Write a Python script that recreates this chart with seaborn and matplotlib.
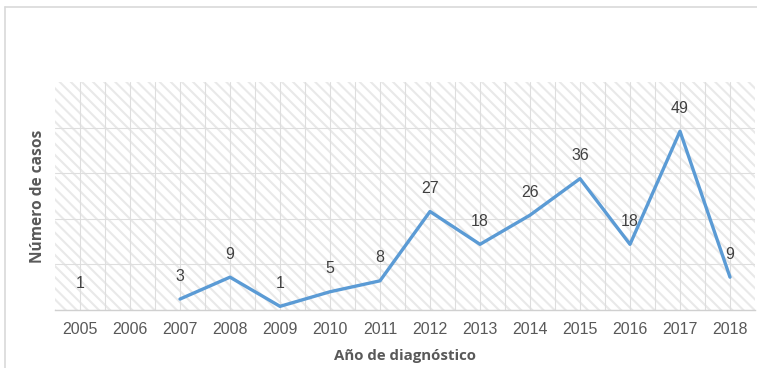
import numpy as np
import pandas as pd
import matplotlib
matplotlib.use('Agg')
import matplotlib.pyplot as plt
from matplotlib.patches import Rectangle
from matplotlib.lines import Line2D
import seaborn as sns

# ---- data ----
years = [2005, 2006, 2007, 2008, 2009, 2010, 2011, 2012, 2013, 2014, 2015, 2016, 2017, 2018]
cases = [1, np.nan, 3, 9, 1, 5, 8, 27, 18, 26, 36, 18, 49, 9]
x_title = "Año de diagnóstico"
y_title = "Número de casos"
y_grid = [0, 12.5, 25, 37.5, 50]

df = pd.DataFrame({"year": years, "cases": cases})
df["segment"] = df["cases"].isna().cumsum()
plot_df = df.dropna()

sns.set_style("white")
plt.rcParams["font.family"] = ["Liberation Sans", "DejaVu Sans"]
plt.rcParams["hatch.linewidth"] = 1.5

W, H = 757, 368
fig = plt.figure(figsize=(W / 100, H / 100), dpi=100)
ax = fig.add_axes([55 / W, 58 / H, 700 / W, 228 / H])

# hatched plot-area background
bg = Rectangle((0, 0), 1, 1, transform=ax.transAxes, facecolor="white",
               edgecolor="#e9e9e9", hatch="\\\\\\", linewidth=0, zorder=0)
ax.add_patch(bg)

sns.lineplot(data=plot_df, x="year", y="cases", units="segment", estimator=None,
             color="#5B9BD5", linewidth=2.4, ax=ax, zorder=3)

ax.set_xlim(years[0] - 0.5, years[-1] + 0.5)
ax.set_ylim(0, 62.5)

ax.set_xticks(years)
ax.set_xticklabels([str(y) for y in years])
ax.set_xticks([y + 0.5 for y in years[:-1]], minor=True)
ax.set_yticks(y_grid)
ax.set_yticklabels([])
ax.grid(True, which="both", axis="x", color="#dedede", linewidth=0.8, zorder=1)
ax.grid(True, which="major", axis="y", color="#dedede", linewidth=0.8, zorder=1)
ax.set_axisbelow(True)
ax.tick_params(axis="both", which="both", length=0)
ax.tick_params(axis="x", pad=9, labelsize=11.5, labelcolor="#595959")

for s in ["top", "right", "left"]:
    ax.spines[s].set_visible(False)
ax.spines["bottom"].set_color("#d0d0d0")
ax.spines["bottom"].set_linewidth(1.0)

for yr, v in zip(years, cases):
    if not np.isnan(v):
        ax.annotate(f"{int(v)}", (yr, v), xytext=(0, 16.5), textcoords="offset points",
                    ha="center", va="center", fontsize=11.5, color="#404040", zorder=4)

ax.set_xlabel(x_title, fontfamily=["Open Sans", "DejaVu Sans"], fontweight="bold",
              fontsize=10.8, color="#595959")
ax.set_ylabel(y_title, fontfamily=["Open Sans", "DejaVu Sans"], fontweight="bold",
              fontsize=11.2, color="#595959")
ax.xaxis.set_label_coords(0.5, (310 - 356) / 228)
ax.yaxis.set_label_coords((38 - 55) / 700, 0.5)
ax.xaxis.label.set_va("center")
ax.yaxis.label.set_va("center")

# chart-area border (left and top visible in the crop)
fig.add_artist(Line2D([4.5 / W, 4.5 / W], [0, 1 - 6.5 / H], transform=fig.transFigure,
                      color="#d9d9d9", linewidth=1.2))
fig.add_artist(Line2D([4.5 / W, 1], [1 - 6.5 / H, 1 - 6.5 / H], transform=fig.transFigure,
                      color="#d9d9d9", linewidth=1.2))

fig.savefig("out.png", dpi=100, facecolor="white")
